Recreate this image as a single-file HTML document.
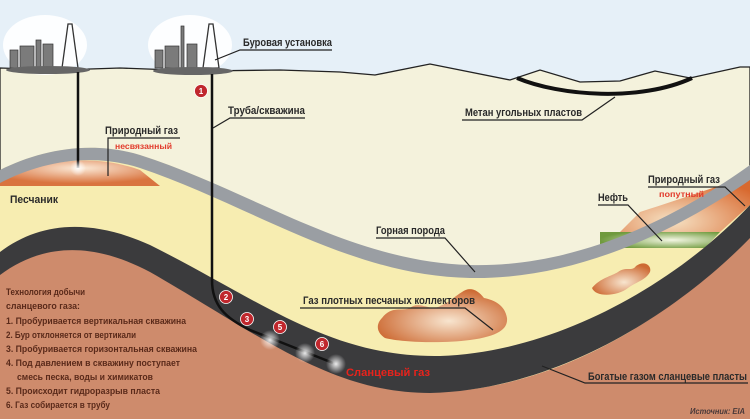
<!DOCTYPE html>
<html><head><meta charset="utf-8"><style>
html,body{margin:0;padding:0;width:750px;height:419px;overflow:hidden;background:#fff}
svg{display:block}
text{font-family:"Liberation Sans","DejaVu Sans",sans-serif;font-weight:bold;}
</style></head><body>
<svg width="750" height="419" viewBox="0 0 750 419" xmlns="http://www.w3.org/2000/svg">
<defs>
<radialGradient id="gasL" cx="0.5" cy="0.3" r="0.6"><stop offset="0" stop-color="#fbe9d6"/><stop offset="1" stop-color="#d9743f"/></radialGradient>
<radialGradient id="gasR" cx="0.4" cy="0.8" r="0.8"><stop offset="0" stop-color="#f6e2c4"/><stop offset="1" stop-color="#d8692f"/></radialGradient>
<radialGradient id="oil" cx="0.6" cy="0.5" r="0.6"><stop offset="0" stop-color="#f4f7e4"/><stop offset="1" stop-color="#6f9a3d"/></radialGradient>
<radialGradient id="sand" cx="0.55" cy="0.6" r="0.6"><stop offset="0" stop-color="#f8e5cf"/><stop offset="1" stop-color="#cd6a33"/></radialGradient>
<radialGradient id="glow" r="0.5"><stop offset="0" stop-color="#ffffff" stop-opacity="0.9"/><stop offset="1" stop-color="#ffffff" stop-opacity="0"/></radialGradient>
</defs>
<rect width="750" height="419" fill="#e6f0f8"/>
<path d="M0 68 L60 70 L120 68 L200 71 L280 70 L340 72 L375 75 L430 64 L510 80 L540 70 L580 82 L620 81 L655 71 L690 78 L740 67 L750 67 L750 419 L0 419 Z" fill="#f4f2dc" stroke="#222" stroke-width="1.3"/>
<path d="M0 170 C40 150,90 140,140 155 C250 190,350 262,470 270 C580 276,680 220,750 178 L750 419 L0 419 Z" fill="#f7edb1"/>
<path d="M0 180 C40 162,90 152,140 170 L160 186 L0 186 Z" fill="url(#gasL)"/>
<path d="M640 212 C690 196,720 185,750 176 L750 205 L720 232 L620 232 Z" fill="url(#gasR)"/>
<path d="M600 232 L720 232 L705 248 L600 248 Z" fill="url(#oil)"/>
<path d="M0 170 C40 150,90 140,140 155 C250 190,350 262,470 265 C580 268,680 215,750 165 L750 180 C680 228,580 280,470 278 C350 276,250 205,140 168 C90 152,40 162,0 183 Z" fill="#9a9ea3"/>
<path d="M0 270 C40 240,90 235,150 265 C260 330,330 392,430 392 C560 392,680 310,750 235 L750 419 L0 419 Z" fill="#ce8b6c"/>
<path d="M0 252 C40 222,90 218,150 245 C260 300,330 358,440 356 C560 352,680 280,750 205 L750 238 C680 310,560 390,430 393 C330 393,260 335,150 272 C90 240,40 245,0 275 Z" fill="#3b3b3d"/>
<path d="M382 318 C392 305,402 312,410 308 C420 300,430 312,440 306 C450 302,455 296,462 292 C470 286,478 290,484 298 C494 300,505 305,507 318 C508 328,500 336,470 340 C440 344,400 342,385 338 C376 332,376 324,382 318 Z" fill="url(#sand)"/>
<path d="M592 288 C600 278,612 276,618 272 C626 266,632 272,636 266 C644 260,652 265,650 272 C646 280,636 282,628 288 C618 296,596 298,592 288 Z" fill="url(#sand)"/>
<path d="M517 78 C560 96,640 102,692 78" fill="none" stroke="#111" stroke-width="4"/>
<ellipse cx="45" cy="45" rx="42" ry="30" fill="#fff" opacity="0.9"/>
<ellipse cx="190" cy="45" rx="42" ry="30" fill="#fff" opacity="0.9"/>
<g fill="#7b7b7b" stroke="#333" stroke-width="0.7">
<rect x="10" y="50" width="8" height="18"/><rect x="20" y="46" width="14" height="22"/><rect x="36" y="40" width="5" height="28"/><rect x="43" y="44" width="10" height="24"/>
<path d="M62 68 L68 24 L72 24 L78 68 Z" fill="none" stroke-width="1.3"/>
<rect x="155" y="50" width="8" height="18"/><rect x="165" y="46" width="14" height="22"/><rect x="181" y="26" width="3" height="42"/><rect x="187" y="44" width="10" height="24"/>
<path d="M203 68 L209 24 L213 24 L219 68 Z" fill="none" stroke-width="1.3"/>
</g>
<ellipse cx="48" cy="70" rx="42" ry="4" fill="#666"/>
<ellipse cx="193" cy="71" rx="40" ry="4" fill="#666"/>
<line x1="78" y1="72" x2="78" y2="168" stroke="#111" stroke-width="2.5"/>
<path d="M212 74 L212 280 C212 305,225 318,250 330 L333 363" fill="none" stroke="#111" stroke-width="2.5"/>
<circle cx="78" cy="168" r="8" fill="url(#glow)"/>
<circle cx="270" cy="340" r="10" fill="url(#glow)"/><circle cx="305" cy="353" r="10" fill="url(#glow)"/><circle cx="336" cy="364" r="10" fill="url(#glow)"/>
<g fill="#c0272d" stroke="#fff" stroke-width="0.8">
<circle cx="201" cy="91" r="6.5"/><circle cx="226" cy="297" r="6.5"/><circle cx="247" cy="319" r="6.5"/><circle cx="280" cy="327" r="6.5"/><circle cx="322" cy="344" r="6.5"/>
</g>
<g fill="#fff" font-size="8" text-anchor="middle"><text x="201" y="94">1</text><text x="226" y="300">2</text><text x="247" y="322">3</text><text x="280" y="330">5</text><text x="322" y="347">6</text></g>
<g stroke="#222" stroke-width="1.2" fill="none">
<polyline points="215,60 240,50 332,50"/>
<polyline points="213,128 230,118 305,118"/>
<polyline points="108,176 108,138 180,138"/>
<polyline points="462,120 582,120 615,97"/>
<polyline points="376,238 445,238 475,272"/>
<polyline points="300,308 465,308 493,330"/>
<polyline points="542,366 585,383 748,383"/>
<polyline points="648,187 725,187 745,206"/>
<polyline points="598,205 628,205 662,241"/>
</g>
<g fill="#2a2a2a" font-size="11">
<text x="243" y="46" textLength="89" lengthAdjust="spacingAndGlyphs">Буровая установка</text>
<text x="228" y="114" textLength="77" lengthAdjust="spacingAndGlyphs">Труба/скважина</text>
<text x="105" y="134" textLength="73" lengthAdjust="spacingAndGlyphs">Природный газ</text>
<text x="10" y="203" textLength="48" lengthAdjust="spacingAndGlyphs">Песчаник</text>
<text x="465" y="116" textLength="117" lengthAdjust="spacingAndGlyphs">Метан угольных пластов</text>
<text x="376" y="234" textLength="69" lengthAdjust="spacingAndGlyphs">Горная порода</text>
<text x="303" y="304" textLength="172" lengthAdjust="spacingAndGlyphs">Газ плотных песчаных коллекторов</text>
<text x="588" y="380" textLength="159" lengthAdjust="spacingAndGlyphs">Богатые газом сланцевые пласты</text>
<text x="648" y="183" textLength="72" lengthAdjust="spacingAndGlyphs">Природный газ</text>
<text x="598" y="201" textLength="30" lengthAdjust="spacingAndGlyphs">Нефть</text>
</g>
<g fill="#e23b2c" font-size="8">
<text x="115" y="149" textLength="57" lengthAdjust="spacingAndGlyphs">несвязанный</text>
<text x="659" y="197" textLength="45" lengthAdjust="spacingAndGlyphs">попутный</text>
</g>
<text x="346" y="376" fill="#e8231c" font-size="11" textLength="84" lengthAdjust="spacingAndGlyphs">Сланцевый газ</text>
<g fill="#5a2a1a" font-size="9.5">
<text x="6" y="295" textLength="79" lengthAdjust="spacingAndGlyphs">Технология добычи</text>
<text x="6" y="309" textLength="74" lengthAdjust="spacingAndGlyphs">сланцевого газа:</text>
<text x="6" y="324" textLength="180" lengthAdjust="spacingAndGlyphs">1. Пробуривается вертикальная скважина</text>
<text x="6" y="338" textLength="130" lengthAdjust="spacingAndGlyphs">2. Бур отклоняется от вертикали</text>
<text x="6" y="352" textLength="191" lengthAdjust="spacingAndGlyphs">3. Пробуривается горизонтальная скважина</text>
<text x="6" y="366" textLength="174" lengthAdjust="spacingAndGlyphs">4. Под давлением в скважину поступает</text>
<text x="17" y="380" textLength="136" lengthAdjust="spacingAndGlyphs">смесь песка, воды и химикатов</text>
<text x="6" y="394" textLength="154" lengthAdjust="spacingAndGlyphs">5. Происходит гидроразрыв пласта</text>
<text x="6" y="408" textLength="104" lengthAdjust="spacingAndGlyphs">6. Газ собирается в трубу</text>
</g>
<text x="690" y="414" fill="#4a3a3a" font-size="8" font-style="italic" font-family="Liberation Serif,serif" font-weight="normal" textLength="55" lengthAdjust="spacingAndGlyphs">Источник: EIA</text>
</svg>
</body></html>
